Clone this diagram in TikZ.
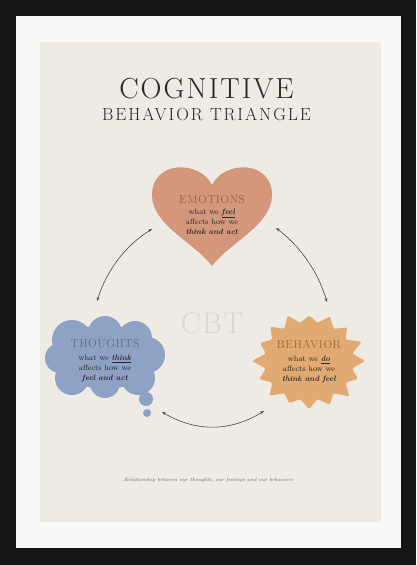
\documentclass[tikz,border=0pt]{standalone}
\usepackage{fontspec}
\setmainfont{Latin Modern Roman}
\usetikzlibrary{arrows.meta}
\begin{document}
\begin{tikzpicture}[x=1pt, y=-1pt,
    head/.style={anchor=base, font=\fontsize{11.5}{12}\selectfont\addfontfeatures{LetterSpace=4}},
    body/.style={align=center, text=ink, font=\fontsize{7.8}{10}\selectfont},
    link/.style={draw=ink!85, line width=0.6pt, {Stealth[length=4pt,width=3pt]}-{Stealth[length=4pt,width=3pt]}}]
    % Colours
    \definecolor{frame}{RGB}{22,22,22}
    \definecolor{mat}{RGB}{248,248,246}
    \definecolor{paper}{RGB}{238,234,228}
    \definecolor{ink}{RGB}{40,40,40}
    \definecolor{cbtgray}{RGB}{218,214,208}
    \definecolor{emofill}{RGB}{212,151,123}
    \definecolor{emotext}{RGB}{150,95,72}
    \definecolor{thofill}{RGB}{141,162,196}
    \definecolor{thotext}{RGB}{90,108,138}
    \definecolor{behfill}{RGB}{226,170,115}
    \definecolor{behtext}{RGB}{150,105,60}

    \useasboundingbox (0,0) rectangle (416,565);

    % Frame, mat and paper
    \fill[frame] (0,0) rectangle (416,565);
    \fill[mat] (16,16) rectangle (401,548);
    \fill[paper] (40,42) rectangle (381,522);

    % Title
    \node[anchor=base, text=ink, font=\fontsize{29}{30}\selectfont\addfontfeatures{LetterSpace=7}] (title) at (206.5,98) {COGNITIVE};
    \node[anchor=base, text=ink, font=\fontsize{17.5}{18}\selectfont\addfontfeatures{LetterSpace=11}] (subtitle) at (206.5,120) {BEHAVIOR TRIANGLE};

    % Heart (emotions)
    \fill[emofill] (212,185) .. controls (200,160) and (152,160) .. (152,195)
        .. controls (152,225) and (195,243) .. (212,266)
        .. controls (229,243) and (272,225) .. (272,195)
        .. controls (272,160) and (224,160) .. (212,185) -- cycle;
    \node[head, text=emotext] (emotions) at (212,203) {EMOTIONS};
    \node[body] (emobody) at (212,222) {what we \underline{\textbf{\textit{feel}}}\\affects how we\\\textbf{\textit{think and act}}};

    % Cloud (thoughts)
    \fill[thofill] (105,357) ellipse (50 and 32)
        (72,340) circle (20) (105,333) circle (17) (135,338) circle (17)
        (147,355) circle (18) (138,378) circle (17) (105,383) circle (15)
        (72,378) circle (17) (60,358) circle (15);
    \fill[thofill] (146,399) circle (7) (147,413) circle (4);
    \node[head, text=thotext] (thoughts) at (105,347) {THOUGHTS};
    \node[body] (thobody) at (105,369) {what we \underline{\textbf{\textit{think}}}\\affects how we\\\textbf{\textit{feel and act}}};

    % Burst (behavior)
    \begin{scope}[shift={(309,361)}, yscale=0.88]
        \fill[behfill, rounded corners=1.5pt] (0:56)
            \foreach \k/\r in {1/53,2/57,3/54,4/55,5/52,6/56,7/54,8/57,9/53,10/55,11/56,12/52,13/55,14/54,15/57}
            { -- ({\k*22.5-11.25}:44) -- ({\k*22.5}:\r) } -- (348.75:44) -- cycle;
    \end{scope}
    \node[head, text=behtext] (behavior) at (309,348) {BEHAVIOR};
    \node[body] (behbody) at (309,370) {what we \underline{\textbf{\textit{do}}}\\affects how we\\\textbf{\textit{think and feel}}};

    % Centre mark
    \node[anchor=base, text=cbtgray, font=\fontsize{30}{30}\selectfont\addfontfeatures{LetterSpace=4}] (cbt) at (212,333) {CBT};

    % Links
    \coordinate (emoL) at (152,229);
    \coordinate (emoR) at (276,228);
    \coordinate (thoT) at (97,301);
    \coordinate (thoB) at (162,412);
    \coordinate (behT) at (327,302);
    \coordinate (behB) at (264,411);
    \draw[link] (thoT) .. controls (107,270) and (125,246) .. (emoL);
    \draw[link] (emoR) .. controls (301,247) and (318,272) .. (behT);
    \draw[link] (thoB) .. controls (196,432) and (230,432) .. (behB);

    % Caption
    \node[text=ink!75, font=\fontsize{5}{6}\selectfont\itshape] (caption) at (208.5,480) {Relationship between our thoughts, our feelings and our behaviors};
\end{tikzpicture}
\end{document}
